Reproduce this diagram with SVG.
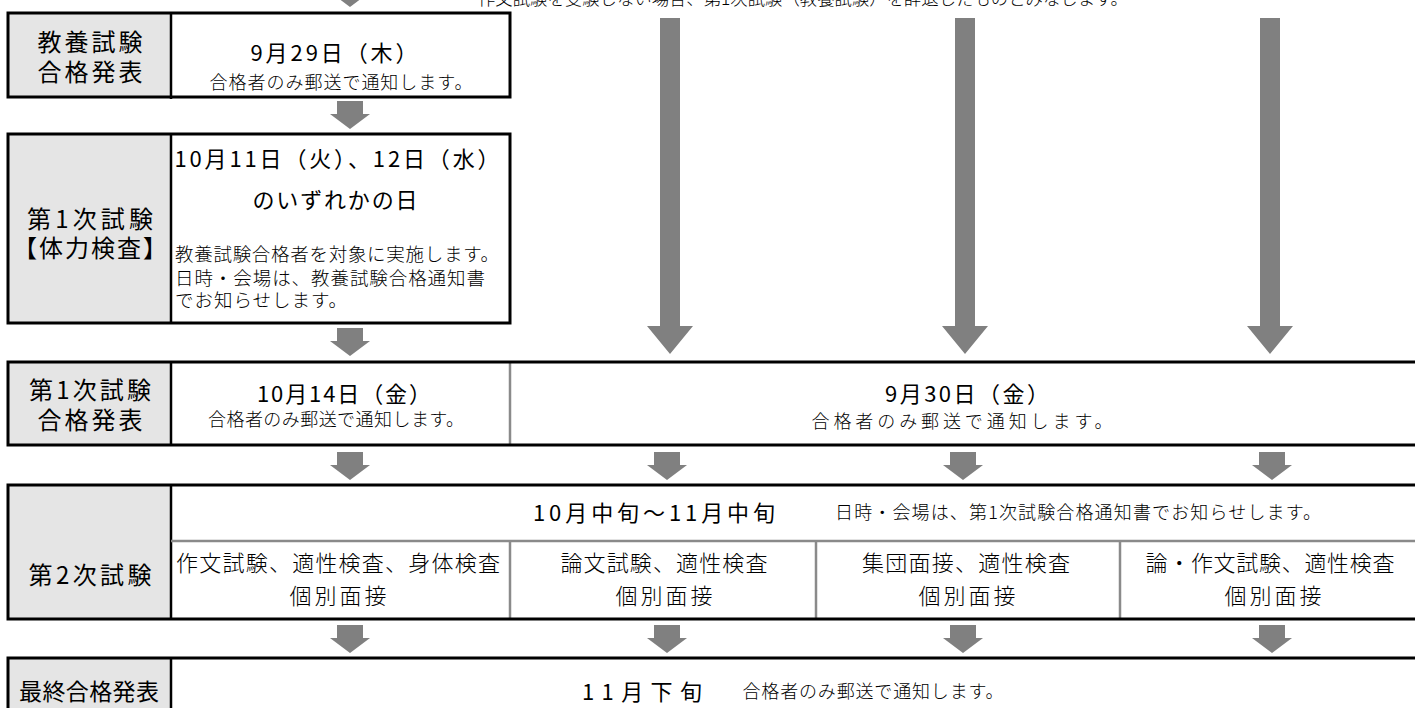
<svg xmlns="http://www.w3.org/2000/svg" width="1415" height="708" viewBox="0 0 1415 708">
<style>
  text { font-family: "Noto Sans CJK JP", "Noto Sans", sans-serif; fill: #000; dominant-baseline: central; }
  .lbl { font-size: 24px; font-weight: 400; text-anchor: middle; }
  .big { font-size: 22px; font-weight: 400; text-anchor: middle; }
  .sm { font-size: 18px; font-weight: 300; text-anchor: middle; }
  .sml { font-size: 18.5px; font-weight: 300; text-anchor: start; }
  .mid { font-size: 22px; font-weight: 300; text-anchor: middle; }
  .lblbg { fill: #e5e5e5; }
  .box { fill: none; stroke: #000; stroke-width: 3; }
  .blk { stroke: #000; stroke-width: 2.5; fill: none; }
  .gry { stroke: #8a8a8a; stroke-width: 2.5; fill: none; }
  .arr { fill: #808080; }
</style>
<defs>
  <polygon id="sa" points="-13,0 13,0 13,13 20,13 0,28 -20,13 -13,13"/>
</defs>

<text x="478" y="-3" style="font-size:17.5px;font-weight:300;text-anchor:start" textLength="650" lengthAdjust="spacingAndGlyphs">作文試験を受験しない場合、第1次試験（教養試験）を辞退したものとみなします。</text>

<g id="connectors" class="arr">
  <use href="#sa" x="350" y="-21"/>
  <use href="#sa" x="350" y="101"/>
  <use href="#sa" x="350" y="328"/>
  <use href="#sa" x="350" y="452"/>
  <use href="#sa" x="667" y="452"/>
  <use href="#sa" x="963" y="452"/>
  <use href="#sa" x="1272" y="452"/>
  <use href="#sa" x="350" y="625"/>
  <use href="#sa" x="667" y="625"/>
  <use href="#sa" x="963" y="625"/>
  <use href="#sa" x="1272" y="625"/>
  <polygon points="660,18 680,18 680,326 693,326 670,354 647,326 660,326"/>
  <polygon points="955,18 975,18 975,326 988,326 965,354 942,326 955,326"/>
  <polygon points="1260,18 1280,18 1280,326 1293,326 1270,354 1247,326 1260,326"/>
</g>

<g id="row1">
  <rect class="lblbg" x="8" y="13" width="163" height="84"/>
  <rect fill="#fff" x="171" y="13" width="339" height="84"/>
  <line class="blk" x1="171" y1="13" x2="171" y2="99"/>
  <rect class="box" x="8" y="13" width="502" height="84"/>
  <text class="lbl" x="90" y="40" textLength="105">教養試験</text>
  <text class="lbl" x="90" y="70" textLength="105">合格発表</text>
  <text class="big" x="334" y="51" textLength="167">9月29日（木）</text>
  <text class="sm" x="341" y="81" textLength="263">合格者のみ郵送で通知します。</text>
</g>

<g id="row2">
  <rect class="lblbg" x="8" y="134" width="163" height="189"/>
  <line class="blk" x1="171" y1="134" x2="171" y2="323"/>
  <rect class="box" x="8" y="134" width="502" height="189"/>
  <text class="lbl" x="90" y="217" textLength="126">第1次試験</text>
  <text class="lbl" x="90" y="246" textLength="154">【体力検査】</text>
  <text class="big" x="337" y="157" textLength="325">10月11日（火）、12日（水）</text>
  <text class="big" x="335" y="198" textLength="165">のいずれかの日</text>
  <text class="sml" x="175" y="253" textLength="324">教養試験合格者を対象に実施します。</text>
  <text class="sml" x="175" y="277" textLength="310">日時・会場は、教養試験合格通知書</text>
  <text class="sml" x="175" y="299" textLength="172">でお知らせします。</text>
</g>

<g id="row3">
  <rect class="lblbg" x="8" y="362" width="163" height="83"/>
  <line class="blk" x1="171" y1="362" x2="171" y2="445"/>
  <line class="gry" x1="510" y1="362" x2="510" y2="445"/>
  <path class="box" d="M1415,362 H8 V445 H1415"/>
  <text class="lbl" x="90" y="388" textLength="122">第1次試験</text>
  <text class="lbl" x="90" y="418" textLength="105">合格発表</text>
  <text class="big" x="344" y="392" textLength="174">10月14日（金）</text>
  <text class="sm" x="336" y="418" textLength="256">合格者のみ郵送で通知します。</text>
  <text class="big" x="967" y="392" textLength="164">9月30日（金）</text>
  <text class="sm" x="962" y="420" textLength="301">合格者のみ郵送で通知します。</text>
</g>

<g id="row4">
  <rect class="lblbg" x="8" y="485" width="163" height="134"/>
  <line class="blk" x1="171" y1="485" x2="171" y2="619"/>
  <line class="gry" x1="171" y1="541" x2="1415" y2="541"/>
  <line class="gry" x1="510" y1="541" x2="510" y2="619"/>
  <line class="gry" x1="816" y1="541" x2="816" y2="619"/>
  <line class="gry" x1="1120" y1="541" x2="1120" y2="619"/>
  <path class="box" d="M1415,485 H8 V619 H1415"/>
  <text class="lbl" x="90" y="573" textLength="123">第2次試験</text>
  <text class="big" x="654" y="511" textLength="242">10月中旬～11月中旬</text>
  <text class="sm" x="1078" y="511" textLength="486">日時・会場は、第1次試験合格通知書でお知らせします。</text>
  <text class="mid" x="338" y="561" textLength="324">作文試験、適性検査、身体検査</text>
  <text class="mid" x="338" y="594" textLength="97">個別面接</text>
  <text class="mid" x="664" y="561" textLength="207">論文試験、適性検査</text>
  <text class="mid" x="664" y="594" textLength="97">個別面接</text>
  <text class="mid" x="966" y="561" textLength="208">集団面接、適性検査</text>
  <text class="mid" x="967" y="594" textLength="97">個別面接</text>
  <text class="mid" x="1270" y="561" textLength="249">論・作文試験、適性検査</text>
  <text class="mid" x="1273" y="594" textLength="97">個別面接</text>
</g>

<g id="row5">
  <rect class="lblbg" x="8" y="658" width="163" height="60"/>
  <line class="blk" x1="171" y1="658" x2="171" y2="718"/>
  <path class="box" d="M1415,658 H8 V718"/>
  <text class="lbl" x="89" y="690" style="font-size:23px" textLength="140">最終合格発表</text>
  <text class="big" x="642" y="690" textLength="120">11月下旬</text>
  <text class="sm" x="873" y="690" textLength="261">合格者のみ郵送で通知します。</text>
</g>
</svg>
